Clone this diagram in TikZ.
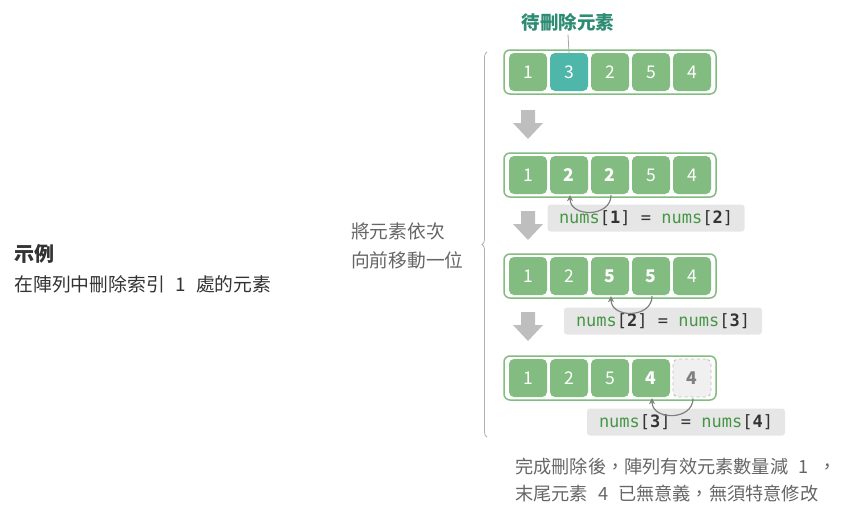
\documentclass[tikz,border=0pt]{standalone}
\usepackage{fontspec}
\setmainfont{Noto Sans CJK TC}
\setmonofont{DejaVu Sans Mono}
\usetikzlibrary{decorations.pathreplacing,arrows.meta}
\definecolor{cellg}{RGB}{130,188,128}
\definecolor{cellhl}{RGB}{78,183,170}
\definecolor{titleg}{RGB}{46,140,116}
\definecolor{numg}{RGB}{70,150,70}
\definecolor{darktxt}{RGB}{51,51,51}
\definecolor{midtxt}{RGB}{85,85,85}
\definecolor{lbltxt}{RGB}{102,102,102}
\definecolor{lblbg}{RGB}{230,230,230}
\definecolor{arrowgray}{RGB}{190,190,190}
\definecolor{curvegray}{RGB}{128,128,128}
\definecolor{bracegray}{RGB}{175,175,175}
\definecolor{ghostfill}{RGB}{240,240,240}
\definecolor{ghostline}{RGB}{190,190,190}
\newcommand{\cjkfs}[1]{\fontsize{#1}{#1}\selectfont}
\newcommand{\nm}{\textcolor{numg}{nums}}
\tikzset{
  outerbox/.style={draw=cellg, line width=1.5pt, fill=white, rounded corners=6pt,
    minimum width=212pt, minimum height=44pt, inner sep=0pt},
  cell/.style={fill=cellg, rounded corners=5pt, minimum width=38pt, minimum height=38pt,
    inner sep=0pt, text=white, font=\cjkfs{17.5}},
  cellb/.style={cell, font=\cjkfs{17.5}\bfseries},
  cellhl/.style={cell, fill=cellhl},
  cellghost/.style={cell, fill=ghostfill, draw=ghostline, dashed, line width=0.9pt,
    text=curvegray, font=\cjkfs{17.5}\bfseries},
  lbl/.style={fill=lblbg, rounded corners=3pt, inner sep=0pt, minimum height=27pt,
    text=darktxt, font=\ttfamily\cjkfs{17}},
  curvearrow/.style={draw=curvegray, line width=1.2pt, -{Stealth[length=6pt,width=6pt]}},
  blockarrow/.style={fill=arrowgray},
}
\begin{document}
\begin{tikzpicture}[x=1pt,y=-1pt]
\useasboundingbox (0,0) rectangle (843,506);

% left caption
\node[anchor=west, text=darktxt, font=\cjkfs{20}\bfseries] (title) at (11,254) {示例};
\node[anchor=west, text=darktxt, font=\cjkfs{18.8}] (sub) at (11,284) {在陣列中刪除索引\hspace{0.55em}1\hspace{0.55em}處的元素};

% brace and its text
\coordinate (bt) at (487,52);
\coordinate (bb) at (487,437);
\draw[bracegray, line width=0.8pt, decorate, decoration={brace, amplitude=5pt}] (bb) -- (bt);
\node[anchor=west, align=left, text=lbltxt, font=\cjkfs{18.7}, inner sep=0pt] (btext) at (351,246)
  {將元素依次\\[11pt]向前移動一位};

% rows
\node[outerbox] (row1) at (610,72) {};
\node[outerbox] (row2) at (610,175) {};
\node[outerbox] (row3) at (610,276) {};
\node[outerbox] (row4) at (610,378) {};

\foreach \i/\x/\v/\s in {1/528/1/cell, 2/569/3/cellhl, 3/610/2/cell, 4/651/5/cell, 5/692/4/cell}
  \node[\s] (r1c\i) at (\x,72) {\v};
\foreach \i/\x/\v/\s in {1/528/1/cell, 2/569/2/cellb, 3/610/2/cellb, 4/651/5/cell, 5/692/4/cell}
  \node[\s] (r2c\i) at (\x,175) {\v};
\foreach \i/\x/\v/\s in {1/528/1/cell, 2/569/2/cell, 3/610/5/cellb, 4/651/5/cellb, 5/692/4/cell}
  \node[\s] (r3c\i) at (\x,276) {\v};
\foreach \i/\x/\v/\s in {1/528/1/cell, 2/569/2/cell, 3/610/5/cell, 4/651/4/cellb, 5/692/4/cellghost}
  \node[\s] (r4c\i) at (\x,378) {\v};

% title of removed element
\node[text=titleg, font=\cjkfs{18.5}\bfseries] (del) at (568,22) {待刪除元素};
\draw[curvegray!70, line width=0.8pt] (del.south) -- (r1c2.north);

% block arrows
\foreach \y in {110,211,312}
  \fill[blockarrow] (521,\y) -- (535,\y) -- (535,\y+13) -- (543,\y+13) -- (528,\y+29)
    -- (513,\y+13) -- (521,\y+13) -- cycle;

% labels
\node[lbl, minimum width=197pt] (l1) at (646,218) {\nm[\textbf{1}] = \nm[\textbf{2}]};
\node[lbl, minimum width=198pt] (l2) at (663,321) {\nm[\textbf{2}] = \nm[\textbf{3}]};
\node[lbl, minimum width=198pt] (l3) at (686,422) {\nm[\textbf{3}] = \nm[\textbf{4}]};

% curved arrows (on top of labels)
\draw[curvearrow] ([xshift=1pt,yshift=-1pt]r2c3.south) to[out=-90,in=-90,looseness=1.4] ([xshift=1pt,yshift=-1pt]r2c2.south);
\draw[curvearrow] ([xshift=1pt,yshift=-1pt]r3c4.south) to[out=-90,in=-90,looseness=1.4] ([xshift=1pt,yshift=-1pt]r3c3.south);
\draw[curvearrow] ([xshift=1pt,yshift=-1pt]r4c5.south) to[out=-90,in=-90,looseness=1.4] ([xshift=1pt,yshift=-1pt]r4c4.south);

% bottom note
\node[anchor=west, align=left, text=lbltxt, font=\cjkfs{18.2}, inner sep=0pt] (note) at (515,480)
  {完成刪除後，陣列有效元素數量減\hspace{0.55em}1\hspace{0.55em}，\\[8pt]末尾元素\hspace{0.55em}4\hspace{0.55em}已無意義，無須特意修改};
\end{tikzpicture}
\end{document}
